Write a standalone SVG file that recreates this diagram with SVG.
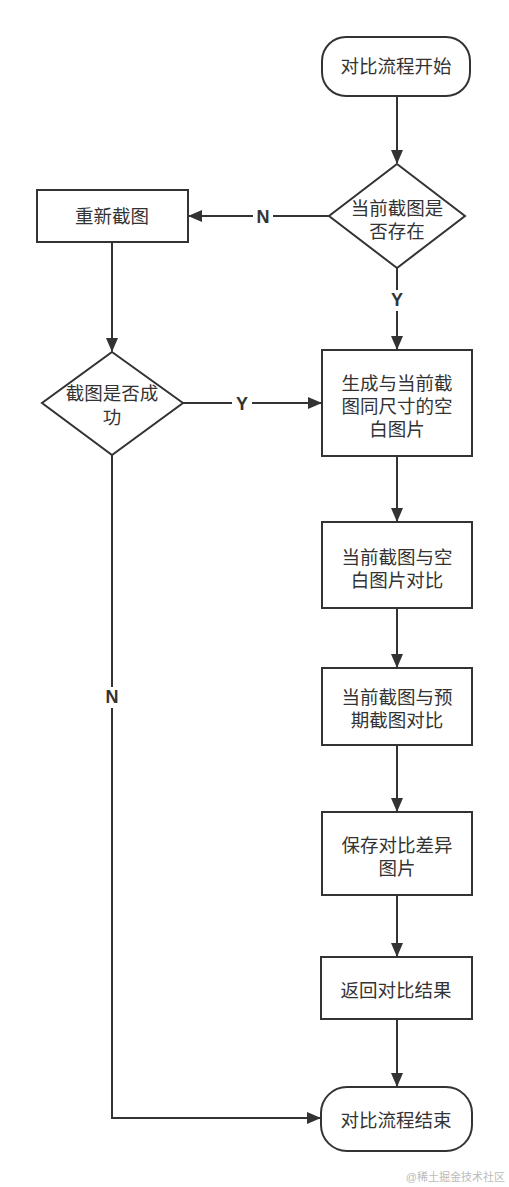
<svg xmlns="http://www.w3.org/2000/svg" width="509" height="1187" viewBox="0 0 509 1187">
<style>
.n{fill:#fff;stroke:#333;stroke-width:2}
.t{font-family:"Liberation Sans","Noto Sans CJK SC",sans-serif;font-size:18.5px;fill:#333;text-anchor:middle}
.c{fill:none;stroke:#333;stroke-width:2}
.l{font-family:"Liberation Sans",Arial,sans-serif;font-size:18px;font-weight:bold;fill:#333;text-anchor:middle;dominant-baseline:central}
.wm{font-family:"Liberation Sans","Noto Sans CJK SC",sans-serif;font-size:11px;fill:#bbb;text-anchor:end}
</style>
<defs>
<marker id="a" markerWidth="14" markerHeight="12" refX="13" refY="6" orient="auto" markerUnits="userSpaceOnUse">
<path d="M0,0 L14,6 L0,12 Z" fill="#333"/>
</marker>
</defs>
<rect width="509" height="1187" fill="#fff"/>
<g id="connectors">
<path class="c" d="M397,96 V163" marker-end="url(#a)"/>
<path class="c" d="M329,216 H189" marker-end="url(#a)"/>
<path class="c" d="M397,268 V349" marker-end="url(#a)"/>
<path class="c" d="M112,242 V351" marker-end="url(#a)"/>
<path class="c" d="M183,403 H321" marker-end="url(#a)"/>
<path class="c" d="M397,456 V521" marker-end="url(#a)"/>
<path class="c" d="M397,608 V667" marker-end="url(#a)"/>
<path class="c" d="M397,745 V811" marker-end="url(#a)"/>
<path class="c" d="M397,895 V956" marker-end="url(#a)"/>
<path class="c" d="M397,1019 V1086" marker-end="url(#a)"/>
<path class="c" d="M112,455 V1118 H320" marker-end="url(#a)"/>
<rect x="253" y="206" width="20" height="21" fill="#fff"/>
<text class="l" x="263" y="217">N</text>
<rect x="387" y="290" width="20" height="21" fill="#fff"/>
<text class="l" x="397" y="300">Y</text>
<rect x="232" y="393" width="20" height="21" fill="#fff"/>
<text class="l" x="242" y="404">Y</text>
<rect x="102" y="687" width="20" height="21" fill="#fff"/>
<text class="l" x="112" y="697">N</text>
</g>
<g id="start">
<rect class="n" x="322" y="37" width="148" height="59" rx="24" ry="24"/>
<text class="t" x="396" y="73">对比流程开始</text>
</g>
<g id="d1">
<path class="n" d="M397,164 L465,216 L397,268 L329,216 Z"/>
<text class="t" x="397" y="215">当前截图是</text>
<text class="t" x="397" y="238">否存在</text>
</g>
<g id="retake">
<rect class="n" x="37" y="190" width="151" height="52"/>
<text class="t" x="112" y="223">重新截图</text>
</g>
<g id="d2">
<path class="n" d="M112,352 L183,403 L112,455 L42,403 Z"/>
<text class="t" x="112" y="400">截图是否成</text>
<text class="t" x="112" y="424">功</text>
</g>
<g id="gen">
<rect class="n" x="322" y="350" width="150" height="106"/>
<text class="t" x="397" y="390">生成与当前截</text>
<text class="t" x="397" y="413">图同尺寸的空</text>
<text class="t" x="397" y="436">白图片</text>
</g>
<g id="cmp1">
<rect class="n" x="322" y="522" width="150" height="86"/>
<text class="t" x="397" y="564">当前截图与空</text>
<text class="t" x="397" y="587">白图片对比</text>
</g>
<g id="cmp2">
<rect class="n" x="322" y="668" width="150" height="77"/>
<text class="t" x="397" y="704">当前截图与预</text>
<text class="t" x="397" y="727">期截图对比</text>
</g>
<g id="save">
<rect class="n" x="322" y="812" width="150" height="83"/>
<text class="t" x="397" y="852">保存对比差异</text>
<text class="t" x="397" y="875">图片</text>
</g>
<g id="ret">
<rect class="n" x="321" y="957" width="151" height="62"/>
<text class="t" x="396" y="997">返回对比结果</text>
</g>
<g id="end">
<rect class="n" x="321" y="1087" width="151" height="64" rx="26" ry="26"/>
<text class="t" x="396" y="1127">对比流程结束</text>
</g>
<text class="wm" x="505" y="1181">@稀土掘金技术社区</text>
</svg>
